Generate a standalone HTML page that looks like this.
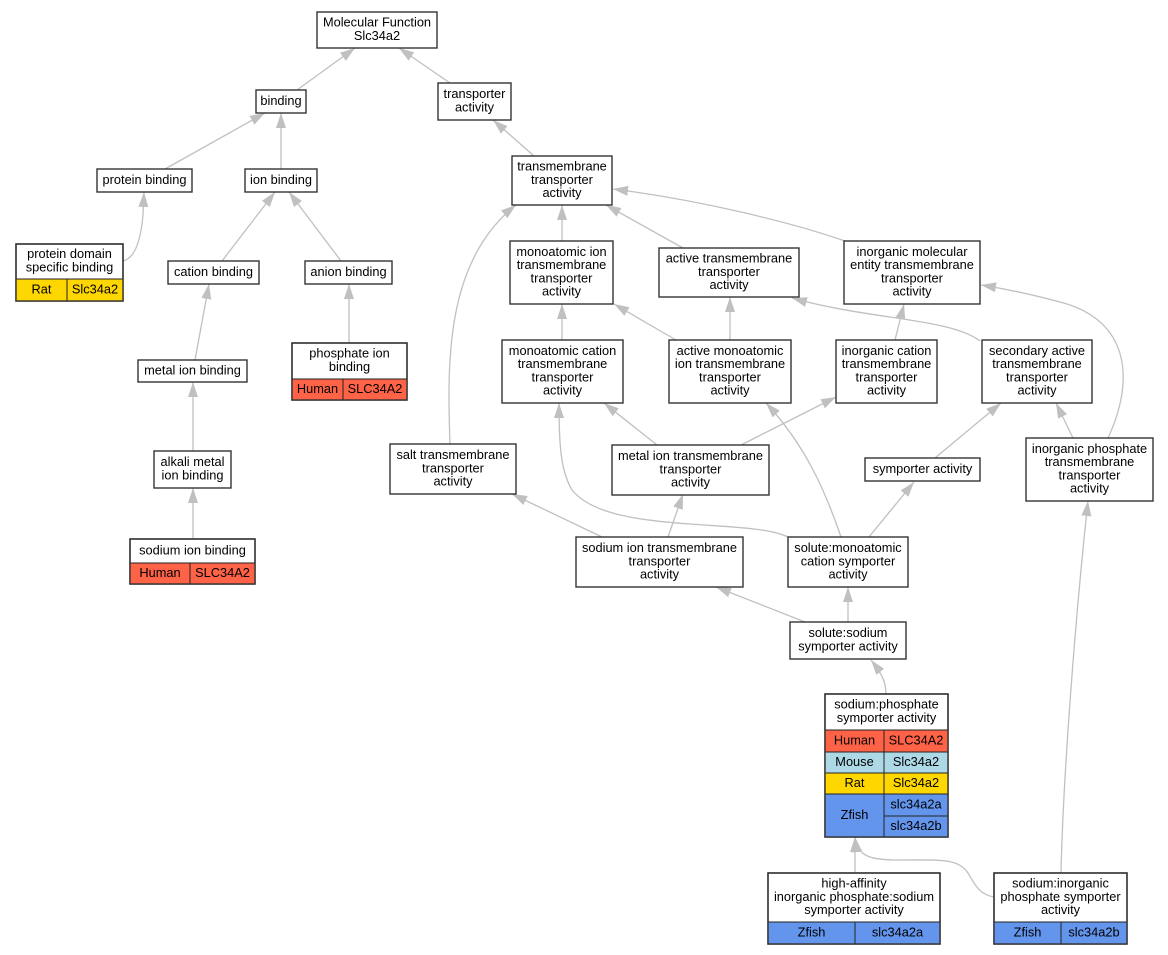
<!DOCTYPE html>
<html><head><meta charset="utf-8"><style>
html,body{margin:0;padding:0;background:#fff;}
svg{display:block;}
text{font-family:"Liberation Sans",Arial,sans-serif;font-size:12.8px;fill:#000;text-anchor:middle;}
.e{fill:none;stroke:#c0c0c0;stroke-width:1.3;}
.n{fill:#fff;stroke:#333;stroke-width:1.4;}
.c{stroke:#222;stroke-width:1;}
</style></head><body>
<svg width="1168" height="955" viewBox="0 0 1168 955" xmlns="http://www.w3.org/2000/svg">
<defs>
<marker id="a" markerUnits="userSpaceOnUse" markerWidth="16" markerHeight="12" refX="15" refY="5" orient="auto">
<path d="M0,0 L15,5 L0,10 z" fill="#c0c0c0"/>
</marker>
</defs>
<g marker-end="url(#a)">
<path class="e" d="M297,90 L355,48"/>
<path class="e" d="M450,83 L399,48"/>
<path class="e" d="M165,169 L265,113"/>
<path class="e" d="M281,169 L281,113"/>
<path class="e" d="M123,261 C136,258 141,238 143,215 L144,192"/>
<path class="e" d="M222,261 L275,192"/>
<path class="e" d="M341,261 L289,192"/>
<path class="e" d="M195,360 L209,284"/>
<path class="e" d="M349,343 L349,284"/>
<path class="e" d="M193,451 L193,382"/>
<path class="e" d="M193,539 L193,488"/>
<path class="e" d="M534,156 L493,120"/>
<path class="e" d="M562,241 L562,205"/>
<path class="e" d="M683,248 L606,205"/>
<path class="e" d="M845,241 C790,222 700,200 613,189"/>
<path class="e" d="M450,444 C447,360 446,260 516,205"/>
<path class="e" d="M562,340 L562,304"/>
<path class="e" d="M676,340 L614,304"/>
<path class="e" d="M730,340 L730,297"/>
<path class="e" d="M895,340 L904,304"/>
<path class="e" d="M980,341 C950,318 870,320 792,298"/>
<path class="e" d="M1073,438 L1056,403"/>
<path class="e" d="M1108,438 C1135,380 1130,320 1060,302 C1030,294 1000,288 981,285"/>
<path class="e" d="M657,445 L604,403"/>
<path class="e" d="M741,445 L836,397"/>
<path class="e" d="M602,537 L512,494"/>
<path class="e" d="M668,537 L683,494"/>
<path class="e" d="M788,537 C770,528 730,527 690,524 C630,520 590,512 572,490 C560,470 559,440 559,403"/>
<path class="e" d="M841,537 C825,490 805,445 766,403"/>
<path class="e" d="M869,537 L914,482"/>
<path class="e" d="M935,458 L1001,403"/>
<path class="e" d="M805,622 L716,587"/>
<path class="e" d="M848,622 L848,587"/>
<path class="e" d="M886,694 C886,682 882,674 871,660"/>
<path class="e" d="M855,873 L855,837"/>
<path class="e" d="M994,897 C980,895 975,885 968,873 C958,858 940,860 900,860 C870,860 858,857 855,837"/>
<path class="e" d="M1061,873 C1063,780 1075,620 1088,501"/>
</g>

<!-- Molecular Function -->
<rect class="n" x="317" y="12" width="120" height="36"/>
<text x="377" y="26.6">Molecular Function</text><text x="377" y="39.9">Slc34a2</text>

<rect class="n" x="256" y="90" width="50" height="23"/>
<text x="281" y="104.8">binding</text>

<rect class="n" x="438" y="83" width="73" height="37"/>
<text x="474.5" y="98.1">transporter</text><text x="474.5" y="111.4">activity</text>

<rect class="n" x="97" y="169" width="95" height="23"/>
<text x="144.5" y="183.8">protein binding</text>

<rect class="n" x="245" y="169" width="72" height="23"/>
<text x="281" y="183.8">ion binding</text>

<rect class="n" x="512" y="156" width="100" height="49"/>
<text x="562" y="170.5">transmembrane</text><text x="562" y="183.8">transporter</text><text x="562" y="197.1">activity</text>

<!-- protein domain specific binding -->
<rect class="n" x="16" y="244" width="107" height="57"/>
<text x="69.5" y="258.1">protein domain</text><text x="69.5" y="271.4">specific binding</text>
<rect class="c" x="16" y="279" width="51" height="22" fill="#FFD700"/>
<rect class="c" x="67" y="279" width="56" height="22" fill="#FFD700"/>
<rect x="16" y="244" width="107" height="57" fill="none" stroke="#333" stroke-width="1.4"/>
<text x="41.5" y="293.3">Rat</text><text x="95" y="293.3">Slc34a2</text>

<rect class="n" x="168" y="261" width="91" height="23"/>
<text x="213.5" y="275.8">cation binding</text>

<rect class="n" x="305" y="261" width="87" height="23"/>
<text x="348.5" y="275.8">anion binding</text>

<rect class="n" x="510" y="241" width="103" height="63"/>
<text x="561.5" y="255.8">monoatomic ion</text><text x="561.5" y="269.1">transmembrane</text><text x="561.5" y="282.4">transporter</text><text x="561.5" y="295.7">activity</text>

<rect class="n" x="659" y="248" width="140" height="49"/>
<text x="729" y="262.5">active transmembrane</text><text x="729" y="275.8">transporter</text><text x="729" y="289.1">activity</text>

<rect class="n" x="844" y="241" width="136" height="63"/>
<text x="912" y="255.8">inorganic molecular</text><text x="912" y="269.1">entity transmembrane</text><text x="912" y="282.4">transporter</text><text x="912" y="295.7">activity</text>

<rect class="n" x="138" y="360" width="109" height="22"/>
<text x="192.5" y="374.3">metal ion binding</text>

<!-- phosphate ion binding -->
<rect class="n" x="292" y="343" width="115" height="57"/>
<text x="349.5" y="357.6">phosphate ion</text><text x="349.5" y="370.9">binding</text>
<rect class="c" x="292" y="379" width="51" height="21" fill="#FF6347"/>
<rect class="c" x="343" y="379" width="64" height="21" fill="#FF6347"/>
<rect x="292" y="343" width="115" height="57" fill="none" stroke="#333" stroke-width="1.4"/>
<text x="317.5" y="392.8">Human</text><text x="375" y="392.8">SLC34A2</text>

<rect class="n" x="502" y="340" width="121" height="63"/>
<text x="562.5" y="354.8">monoatomic cation</text><text x="562.5" y="368.1">transmembrane</text><text x="562.5" y="381.4">transporter</text><text x="562.5" y="394.7">activity</text>

<rect class="n" x="669" y="340" width="122" height="63"/>
<text x="730" y="354.8">active monoatomic</text><text x="730" y="368.1">ion transmembrane</text><text x="730" y="381.4">transporter</text><text x="730" y="394.7">activity</text>

<rect class="n" x="836" y="340" width="101" height="63"/>
<text x="886.5" y="354.8">inorganic cation</text><text x="886.5" y="368.1">transmembrane</text><text x="886.5" y="381.4">transporter</text><text x="886.5" y="394.7">activity</text>

<rect class="n" x="982" y="340" width="110" height="63"/>
<text x="1037" y="354.8">secondary active</text><text x="1037" y="368.1">transmembrane</text><text x="1037" y="381.4">transporter</text><text x="1037" y="394.7">activity</text>

<rect class="n" x="154" y="451" width="77" height="37"/>
<text x="192.5" y="466.1">alkali metal</text><text x="192.5" y="479.4">ion binding</text>

<rect class="n" x="390" y="444" width="126" height="50"/>
<text x="453" y="459">salt transmembrane</text><text x="453" y="472.3">transporter</text><text x="453" y="485.6">activity</text>

<rect class="n" x="612" y="445" width="157" height="50"/>
<text x="690.5" y="460">metal ion transmembrane</text><text x="690.5" y="473.3">transporter</text><text x="690.5" y="486.6">activity</text>

<rect class="n" x="865" y="458" width="115" height="23"/>
<text x="922.5" y="472.8">symporter activity</text>

<rect class="n" x="1026" y="438" width="127" height="63"/>
<text x="1089.5" y="452.8">inorganic phosphate</text><text x="1089.5" y="466.1">transmembrane</text><text x="1089.5" y="479.4">transporter</text><text x="1089.5" y="492.7">activity</text>

<!-- sodium ion binding -->
<rect class="n" x="130" y="539" width="125" height="45"/>
<text x="192.5" y="554.3">sodium ion binding</text>
<rect class="c" x="130" y="563" width="60" height="21" fill="#FF6347"/>
<rect class="c" x="190" y="563" width="65" height="21" fill="#FF6347"/>
<rect x="130" y="539" width="125" height="45" fill="none" stroke="#333" stroke-width="1.4"/>
<text x="160" y="576.8">Human</text><text x="222.5" y="576.8">SLC34A2</text>

<rect class="n" x="576" y="537" width="167" height="50"/>
<text x="659.5" y="552">sodium ion transmembrane</text><text x="659.5" y="565.3">transporter</text><text x="659.5" y="578.6">activity</text>

<rect class="n" x="788" y="537" width="120" height="50"/>
<text x="848" y="552">solute:monoatomic</text><text x="848" y="565.3">cation symporter</text><text x="848" y="578.6">activity</text>

<rect class="n" x="790" y="622" width="116" height="37"/>
<text x="848" y="637.1">solute:sodium</text><text x="848" y="650.4">symporter activity</text>

<!-- sodium:phosphate symporter activity -->
<rect class="n" x="825" y="694" width="123" height="143"/>
<text x="886.5" y="708.6">sodium:phosphate</text><text x="886.5" y="721.9">symporter activity</text>
<rect class="c" x="825" y="730" width="59" height="22" fill="#FF6347"/>
<rect class="c" x="884" y="730" width="64" height="22" fill="#FF6347"/>
<rect class="c" x="825" y="752" width="59" height="21" fill="#ADD8E6"/>
<rect class="c" x="884" y="752" width="64" height="21" fill="#ADD8E6"/>
<rect class="c" x="825" y="773" width="59" height="21" fill="#FFD700"/>
<rect class="c" x="884" y="773" width="64" height="21" fill="#FFD700"/>
<rect class="c" x="825" y="794" width="59" height="43" fill="#6495ED"/>
<rect class="c" x="884" y="794" width="64" height="22" fill="#6495ED"/>
<rect class="c" x="884" y="816" width="64" height="21" fill="#6495ED"/>
<rect x="825" y="694" width="123" height="143" fill="none" stroke="#333" stroke-width="1.4"/>
<text x="854.5" y="744.3">Human</text><text x="916" y="744.3">SLC34A2</text>
<text x="854.5" y="765.8">Mouse</text><text x="916" y="765.8">Slc34a2</text>
<text x="854.5" y="786.8">Rat</text><text x="916" y="786.8">Slc34a2</text>
<text x="854.5" y="818.8">Zfish</text><text x="916" y="808.3">slc34a2a</text><text x="916" y="829.8">slc34a2b</text>

<!-- high-affinity -->
<rect class="n" x="768" y="873" width="172" height="71"/>
<text x="854" y="887.5">high-affinity</text><text x="854" y="900.8">inorganic phosphate:sodium</text><text x="854" y="914.1">symporter activity</text>
<rect class="c" x="768" y="922" width="87" height="22" fill="#6495ED"/>
<rect class="c" x="855" y="922" width="85" height="22" fill="#6495ED"/>
<rect x="768" y="873" width="172" height="71" fill="none" stroke="#333" stroke-width="1.4"/>
<text x="811.5" y="936.3">Zfish</text><text x="897.5" y="936.3">slc34a2a</text>

<!-- sodium:inorganic phosphate symporter activity -->
<rect class="n" x="994" y="873" width="133" height="71"/>
<text x="1060.5" y="887.5">sodium:inorganic</text><text x="1060.5" y="900.8">phosphate symporter</text><text x="1060.5" y="914.1">activity</text>
<rect class="c" x="994" y="922" width="67" height="22" fill="#6495ED"/>
<rect class="c" x="1061" y="922" width="66" height="22" fill="#6495ED"/>
<rect x="994" y="873" width="133" height="71" fill="none" stroke="#333" stroke-width="1.4"/>
<text x="1027.5" y="936.3">Zfish</text><text x="1094" y="936.3">slc34a2b</text>
</svg>
</body></html>
